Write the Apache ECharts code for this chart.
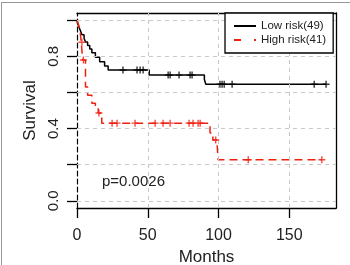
<!DOCTYPE html>
<html><head><meta charset="utf-8">
<script src="https://cdn.jsdelivr.net/npm/echarts@6/dist/echarts.min.js"></script>
<style>html,body{margin:0;padding:0;background:#fff}#c{width:350px;height:265px}</style>
</head><body><div id="c"></div>
<script>
// Kaplan-Meier step data
const lowName = 'Low risk(49)';
const highName = 'High risk(41)';
const lowTimes = [0, 0.5, 1.5, 2.5, 3.5, 5, 6, 7.5, 9, 10.5, 13, 16, 19.5, 22, 51, 90, 91, 176];
const lowSurv  = [1, 0.98, 0.96, 0.94, 0.92, 0.90, 0.88, 0.86, 0.84, 0.82, 0.795, 0.77, 0.747, 0.724, 0.696, 0.672, 0.645, 0.645];
const lowCensor = [32.5, 42.4, 44.6, 46.7, 64.4, 65.8, 72.1, 79.9, 81.3, 101, 102.5, 104, 109.6, 167.6, 176];
const highTimes = [0, 1, 2, 3, 4, 6, 7.5, 10.5, 13, 15, 17.5, 94, 96, 99, 99.7, 173];
const highSurv  = [1, 0.976, 0.951, 0.878, 0.78, 0.63, 0.585, 0.54, 0.51, 0.486, 0.43, 0.376, 0.337, 0.31, 0.227, 0.227];
const highCensor = [3.5, 4.5, 15.5, 24.8, 28.3, 41, 55.2, 60.8, 65.8, 79.2, 82, 85.6, 87, 98, 121, 173];
const xTicks = [0, 50, 100, 150];
const yTicks = [0, 0.2, 0.4, 0.6, 0.8, 1.0];
const yLabels = [0, 0.4, 0.8];
const pText = 'p=0.0026';

function stepAt(times, surv, t) {
  let v = surv[0];
  for (let i = 0; i < times.length; i++) if (times[i] <= t) v = surv[i];
  return v;
}
const lowData = lowTimes.map((t, i) => [t, lowSurv[i]]);
const highData = highTimes.map((t, i) => [t, highSurv[i]]);
const lowCens = lowCensor.map(t => [t, stepAt(lowTimes, lowSurv, t)]);
const highCens = highCensor.map(t => [t, stepAt(highTimes, highSurv, t)]);
const plus = 'path://M4,0H6V4H10V6H6V10H4V6H0V4H4Z';
const font = 'Liberation Sans, Arial, sans-serif';
const red = '#f02010';

const gridLines = xTicks.filter(v => v > 0).map(v => ({xAxis: v}))
  .concat(yTicks.map(v => ({yAxis: v})));

const chart = echarts.init(document.getElementById('c'), null, {renderer: 'canvas'});
chart.setOption({
  animation: false,
  backgroundColor: '#fff',
  textStyle: {fontFamily: font},
  grid: {left: 77, right: 14, top: 13, bottom: 57, containLabel: false, outerBoundsMode: 'none'},
  graphic: [
    {type: 'line', shape: {x1: 1.5, y1: 2, x2: 1.5, y2: 265}, style: {stroke: '#999', lineWidth: 1}},
    {type: 'line', shape: {x1: 1, y1: 2.5, x2: 350, y2: 2.5}, style: {stroke: '#999', lineWidth: 1}},
    {type: 'text', left: 102, top: 174, style: {text: pText, font: '15px ' + font, fill: '#222'}}
  ],
  legend: {
    data: [
      {name: lowName, lineStyle: {type: 'solid'}},
      {name: highName, lineStyle: {type: [7, 13]}}
    ],
    orient: 'vertical', left: 225, top: 13,
    padding: [7, 7, 7, 8], itemGap: 2, itemWidth: 22, itemHeight: 12,
    borderColor: '#000', borderWidth: 1.3, backgroundColor: '#fff',
    itemStyle: {opacity: 0},
    textStyle: {fontSize: 11.5, color: '#222', fontFamily: font},
    z: 10
  },
  xAxis: [{
    type: 'value', min: 0, max: 183, position: 'bottom',
    axisLine: {onZero: false, lineStyle: {color: '#000', width: 1.3}},
    axisTick: {customValues: xTicks, length: 10, lineStyle: {color: '#000', width: 1.3}},
    axisLabel: {customValues: xTicks, fontSize: 16, color: '#222', margin: 20, fontFamily: font},
    splitLine: {show: false},
    name: 'Months', nameLocation: 'middle', nameGap: 41, nameMoveOverlap: false,
    nameTextStyle: {fontSize: 17, color: '#222', fontFamily: font}
  }, {
    type: 'value', min: 0, max: 183, position: 'top',
    axisLine: {onZero: false, lineStyle: {color: '#000', width: 1.3}},
    axisTick: {show: false}, axisLabel: {show: false}, splitLine: {show: false}
  }],
  yAxis: [{
    type: 'value', min: -0.04, max: 1.04, position: 'left',
    axisLine: {onZero: false, lineStyle: {color: '#000', width: 1.2, type: [5, 3]}},
    axisTick: {customValues: yTicks, length: 10, lineStyle: {color: '#000', width: 1.3}},
    axisLabel: {customValues: yLabels, rotate: 90, fontSize: 15, color: '#222', margin: 16,
      formatter: v => Number(v).toFixed(1), fontFamily: font},
    splitLine: {show: false},
    name: 'Survival', nameLocation: 'middle', nameRotate: 90, nameGap: 38, nameMoveOverlap: false,
    nameTextStyle: {fontSize: 17, color: '#222', fontFamily: font}
  }, {
    type: 'value', min: -0.04, max: 1.04, position: 'right',
    axisLine: {onZero: false, lineStyle: {color: '#000', width: 1.3}},
    axisTick: {show: false}, axisLabel: {show: false}, splitLine: {show: false}
  }],
  series: [
    {
      name: 'grid', type: 'line', data: [], z: 1, silent: true,
      markLine: {silent: true, symbol: 'none', label: {show: false},
        lineStyle: {color: '#c8c8c8', type: [4, 4], width: 1}, data: gridLines}
    },
    {
      name: lowName, type: 'line', step: 'end', data: lowData, symbol: 'none',
      lineStyle: {color: '#000', width: 1.5}, itemStyle: {color: '#000'}, z: 3
    },
    {
      name: highName, type: 'line', step: 'end', data: highData, symbol: 'none',
      lineStyle: {color: red, width: 1.5, type: [8, 5]}, itemStyle: {color: red}, z: 4
    },
    {
      name: 'lowCens', type: 'scatter', data: lowCens, symbol: plus, symbolSize: 7,
      itemStyle: {color: '#000'}, z: 5
    },
    {
      name: 'highCens', type: 'scatter', data: highCens, symbol: plus, symbolSize: 7,
      itemStyle: {color: red}, z: 5
    }
  ]
});
</script></body></html>
